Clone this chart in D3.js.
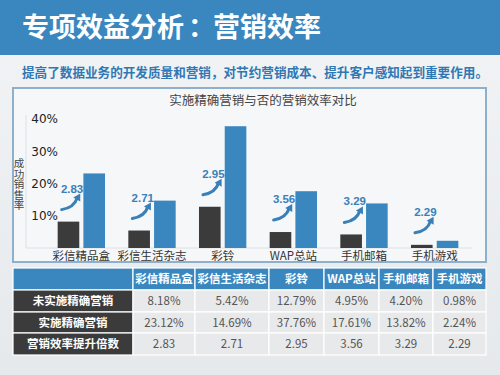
<!DOCTYPE html>
<html>
<head>
<meta charset="utf-8">
<script src="https://cdn.jsdelivr.net/npm/d3@7"></script>
<style>
  body { margin: 0; background: #eceef1; }
  svg { display: block; font-family: "Noto Sans CJK SC", "Noto Sans", sans-serif; }
</style>
</head>
<body>
<svg width="500" height="375"></svg>
<script>
var categories = ["彩信精品盒", "彩信生活杂志", "彩铃", "WAP总站", "手机邮箱", "手机游戏"];
var withoutRate = [8.18, 5.42, 12.79, 4.95, 4.20, 0.98];
var withRate = [23.12, 14.69, 37.76, 17.61, 13.82, 2.24];
var lift = ["2.83", "2.71", "2.95", "3.56", "3.29", "2.29"];
var yTicks = [10, 20, 30, 40];
var rowNames = ["未实施精确营销", "实施精确营销", "营销效率提升倍数"];

var svg = d3.select("svg");
var blue = "#3a87c0", dark = "#3b3b3b";

// background
var grad = svg.append("defs").append("linearGradient")
    .attr("id", "bg").attr("x1", 0).attr("y1", 0).attr("x2", 0).attr("y2", 1);
grad.append("stop").attr("offset", "0%").attr("stop-color", "#f2f4f6");
grad.append("stop").attr("offset", "100%").attr("stop-color", "#e6e9ec");
svg.append("rect").attr("width", 500).attr("height", 375).attr("fill", "url(#bg)");

// header
svg.append("rect").attr("width", 500).attr("height", 55).attr("fill", blue);
var title = svg.append("text")
    .attr("y", 37)
    .attr("fill", "#fff").attr("font-size", 27).attr("font-weight", "bold");
title.append("tspan").attr("x", 22).text("专项效益分析");
title.append("tspan").attr("x", 188).text("：");
title.append("tspan").attr("x", 213).text("营销效率");

svg.append("text")
    .attr("x", 22).attr("y", 77)
    .attr("fill", "#2f78b3").attr("font-size", 12.6).attr("font-weight", "bold")
    .text("提高了数据业务的开发质量和营销，对节约营销成本、提升客户感知起到重要作用。");

// chart box
svg.append("rect")
    .attr("x", 13).attr("y", 88).attr("width", 473).attr("height", 174)
    .attr("fill", "#f5f7f9").attr("stroke", "#8fb0cc").attr("stroke-width", 2);

svg.append("text")
    .attr("x", 263).attr("y", 105).attr("text-anchor", "middle")
    .attr("fill", "#444").attr("font-size", 12.5)
    .text("实施精确营销与否的营销效率对比");

var y = d3.scaleLinear().domain([0, 40]).range([248, 119]);
var x0 = d3.scaleBand().domain(categories).range([46, 470])
    .paddingInner(0.33).paddingOuter(0.165);
var x1 = d3.scaleBand().domain([0, 1]).range([0, x0.bandwidth()]).paddingInner(0.16);

// axis
var yAxis = svg.append("g")
    .attr("transform", "translate(58,0)")
    .call(d3.axisLeft(y).tickValues(yTicks).tickSize(0).tickPadding(0)
      .tickFormat(function(d) { return d + "%"; }));
yAxis.select(".domain").remove();
yAxis.selectAll("text").attr("fill", "#222").attr("font-size", 12)
    .attr("font-family", "\"DejaVu Sans\", sans-serif");

svg.append("line")
    .attr("x1", 26).attr("x2", 26).attr("y1", 115).attr("y2", 248)
    .attr("stroke", "#dde2e6");
svg.append("line")
    .attr("x1", 26).attr("x2", 472).attr("y1", 248).attr("y2", 248)
    .attr("stroke", "#dde2e6");

svg.append("text")
    .attr("x", 19).attr("y", 158)
    .style("writing-mode", "vertical-rl")
    .attr("fill", "#444").attr("font-size", 10.5)
    .text("成功销售率");

// bars
var groups = svg.append("g").selectAll("g")
    .data(categories)
    .enter().append("g")
    .attr("transform", function(d) { return "translate(" + x0(d) + ",0)"; });

groups.append("rect")
    .attr("x", x1(0)).attr("width", x1.bandwidth())
    .attr("y", function(d, i) { return y(withoutRate[i]); })
    .attr("height", function(d, i) { return y(0) - y(withoutRate[i]); })
    .attr("fill", dark);

groups.append("rect")
    .attr("x", x1(1)).attr("width", x1.bandwidth())
    .attr("y", function(d, i) { return y(withRate[i]); })
    .attr("height", function(d, i) { return y(0) - y(withRate[i]); })
    .attr("fill", blue);

groups.append("text")
    .attr("x", x0.bandwidth() / 2).attr("y", 260)
    .attr("text-anchor", "middle").attr("fill", "#333").attr("font-size", 11.5)
    .text(function(d) { return d; });

// arrows
groups.each(function(d, i) {
  var g = d3.select(this);
  var tx = x1(0) + 4, ty = y(withoutRate[i]) - 12;
  var hx = x1(0) + x1.bandwidth(), hy = ty - 16;
  g.append("path")
      .attr("d", "M" + tx + "," + ty +
        " Q" + (hx - 5) + "," + (ty - 2) + " " + (hx - 2) + "," + (hy + 4))
      .attr("fill", "none").attr("stroke", "#3a80b8").attr("stroke-width", 3)
      .attr("stroke-linecap", "round");
  g.append("path")
      .attr("d", "M" + (hx + 1) + "," + hy + " L" + (hx - 6) + "," + (hy + 4) +
        " L" + (hx + 1) + "," + (hy + 8) + "Z")
      .attr("fill", "#3a80b8");
  g.append("text")
      .attr("x", hx + 4).attr("y", hy - 1)
      .attr("text-anchor", "end").attr("fill", "#3a80b8")
      .attr("font-size", 11.5).attr("font-weight", "bold")
      .attr("font-family", "\"Liberation Sans\", sans-serif")
      .text(lift[i]);
});

// table
var colX = [13, 133, 195, 269, 324, 379, 433, 486];
var rowY = [268, 290, 312, 333, 355];
var table = svg.append("g");

function cell(c, r, fill, txt, color, bold) {
  table.append("rect")
      .attr("x", colX[c]).attr("y", rowY[r])
      .attr("width", colX[c + 1] - colX[c]).attr("height", rowY[r + 1] - rowY[r])
      .attr("fill", fill).attr("stroke", "#fff").attr("stroke-width", 1.2);
  if (txt) {
    table.append("text")
        .attr("x", (colX[c] + colX[c + 1]) / 2)
        .attr("y", (rowY[r] + rowY[r + 1]) / 2 + 4)
        .attr("text-anchor", "middle").attr("fill", color)
        .attr("font-size", 11.5).attr("font-weight", bold ? "bold" : "normal")
        .text(txt);
  }
}

cell(0, 0, blue, "", "#fff", true);
categories.forEach(function(c, i) { cell(i + 1, 0, blue, c, "#fff", true); });
var rows = [
  withoutRate.map(function(v) { return v.toFixed(2) + "%"; }),
  withRate.map(function(v) { return v.toFixed(2) + "%"; }),
  lift
];
rows.forEach(function(vals, r) {
  cell(0, r + 1, dark, rowNames[r], "#fff", true);
  vals.forEach(function(v, i) { cell(i + 1, r + 1, "#e8e9eb", v, "#555", false); });
});
</script>
</body>
</html>
